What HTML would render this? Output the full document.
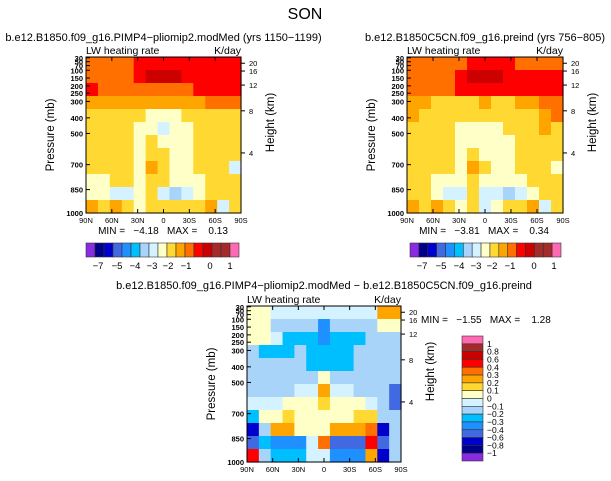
<!DOCTYPE html>
<html><head><meta charset="utf-8">
<style>
body{margin:0;background:#fff;}
svg{display:block;font-family:"Liberation Sans",sans-serif;}
text{white-space:pre;}
</style></head><body>
<svg id="c" width="611" height="481" xmlns="http://www.w3.org/2000/svg" xml:space="preserve">
<text x="305" y="19" font-size="16" text-anchor="middle">SON</text>
</svg>
<script>
// ---- data ----
const lats = ["90N","60N","30N","0","30S","60S","90S"];
const presTicks = ["30","50","70","100","150","200","250","300","400","500","700","850","1000"];
const presFrac = [0.005,0.03,0.055,0.085,0.135,0.185,0.232,0.285,0.39,0.49,0.69,0.85,1.0];
const hgtTicks = ["20","16","12","8","4"];
const hgtFrac = [0.04,0.09,0.18,0.345,0.615];
const absLevels = [-7,-6,-5,-4.5,-4,-3.5,-3,-2.5,-2,-1.5,-1,-0.5,0,0.5,1,1.5];
const absLabels = ["−7","−5","−4","−3","−2","−1","0","1"];
const absLabelOff = [12,31,49,66,82,100,124,144];
const diffLevels = [-1,-0.8,-0.6,-0.4,-0.3,-0.2,-0.1,0,0.1,0.2,0.3,0.4,0.6,0.8,1];
const diffLabels = ["1","0.8","0.6","0.4","0.3","0.2","0.1","0","−0.1","−0.2","−0.3","−0.4","−0.6","−0.8","−1"];
const absColors = ["#8a2be2","#00008b","#0000cd","#4169e1","#1e90ff","#00bfff","#a8d4fa","#d4f2ff","#ffffc8","#ffd832","#ffa500","#ff7000","#ff0000","#cd0000","#a52a2a","#a52a2a","#ff69b4"];
const diffColors = ["#8a2be2","#00008b","#0000cd","#4169e1","#1e90ff","#00bfff","#a8d4fa","#d4f2ff","#ffffc8","#ffd832","#ffa500","#ff7000","#ff0000","#cd0000","#a52a2a","#ff69b4"];
const gridPI = [
[-0.7,-0.7,-0.7,-0.7,-0.3,-0.3,-0.3,-0.3,-0.3,-0.3,-0.3,-0.3,-0.3],
[-0.7,-0.7,-0.7,-0.7,-0.3,0.1,0.1,0.1,-0.3,-0.3,-0.3,-0.3,-0.3],
[-0.3,-0.7,-0.7,-0.7,-0.7,-0.7,-0.7,-0.7,-0.7,-0.3,-0.3,-0.3,-0.3],
[-1.2,-1.2,-1.2,-1.2,-1.2,-1.2,-1.2,-1.2,-1.2,-1.2,-0.7,-0.7,-0.7],
[-1.7,-1.7,-1.7,-1.7,-1.7,-2.2,-2.2,-2.2,-1.7,-1.7,-1.7,-1.7,-1.7],
[-1.7,-1.7,-1.7,-1.7,-2.2,-2.2,-2.7,-2.2,-2.2,-1.7,-1.7,-1.7,-1.7],
[-1.7,-1.7,-1.7,-1.7,-2.2,-1.7,-2.2,-2.2,-2.2,-1.7,-1.7,-1.7,-1.7],
[-1.7,-1.7,-1.7,-1.7,-2.2,-1.7,-1.7,-2.2,-2.2,-1.7,-1.7,-1.7,-1.7],
[-1.7,-1.7,-1.7,-1.7,-2.2,-1.2,-1.7,-2.2,-2.2,-1.7,-1.7,-1.7,-2.7],
[-2.2,-2.2,-1.7,-1.7,-2.2,-1.7,-1.7,-2.2,-2.2,-2.2,-1.7,-1.7,-1.7],
[-2.2,-2.2,-2.7,-2.7,-2.2,-1.7,-2.7,-3.2,-2.7,-2.2,-1.7,-1.7,-1.7],
[-1.2,-1.7,-1.2,-1.7,-2.2,-1.7,-1.7,-1.7,-1.7,-1.7,-1.2,-2.7,-1.7]];
const gridPre = [
[-0.7,-0.7,-0.7,-0.7,-0.7,-0.3,-0.3,-0.3,-0.3,-0.7,-0.7,-0.7,-0.7],
[-0.7,-0.7,-0.7,-0.7,-0.3,0.1,0.1,0.1,-0.3,-0.3,-0.3,-0.3,-0.3],
[-0.7,-0.7,-0.7,-0.7,-0.3,-0.3,-0.3,-0.3,-0.3,-0.3,-0.3,-0.3,-0.3],
[-1.2,-1.2,-1.7,-1.7,-1.7,-1.7,-1.2,-1.7,-1.7,-1.2,-1.2,-0.7,-0.7],
[-1.2,-1.7,-1.7,-1.7,-1.7,-1.7,-1.7,-1.7,-1.7,-1.7,-1.7,-1.2,-0.7],
[-1.7,-1.7,-1.7,-1.7,-2.2,-2.2,-2.2,-2.2,-1.7,-1.7,-1.7,-1.2,-1.7],
[-1.7,-1.7,-1.7,-1.7,-2.2,-2.2,-2.2,-2.2,-2.2,-1.7,-1.7,-1.7,-1.7],
[-1.7,-1.7,-1.7,-1.7,-2.2,-1.7,-2.2,-2.2,-2.2,-1.7,-1.7,-1.7,-1.7],
[-1.7,-1.7,-1.7,-1.7,-2.2,-1.2,-1.7,-2.2,-2.2,-1.7,-1.7,-1.7,-2.2],
[-1.7,-1.7,-2.2,-2.2,-2.2,-1.7,-2.2,-2.2,-2.2,-2.2,-1.7,-1.7,-1.7],
[-1.7,-1.7,-2.2,-2.7,-2.7,-1.7,-2.7,-2.7,-3.2,-2.7,-2.2,-1.7,-1.7],
[-1.2,-1.7,-1.2,-1.7,-2.2,-1.7,-2.7,-2.2,-1.7,-1.7,-1.2,-2.7,-1.7]];
const gridDiff = [
[0.05,0.05,-0.05,-0.05,-0.05,-0.05,-0.05,-0.05,-0.05,-0.05,-0.05,0.25,0.25],
[0.05,0.05,-0.15,-0.15,-0.15,-0.15,-0.35,-0.15,-0.15,-0.15,-0.15,0.05,0.05],
[0.05,0.05,-0.05,-0.25,-0.25,-0.25,-0.35,-0.25,-0.25,-0.25,-0.15,-0.15,-0.15],
[-0.15,-0.25,-0.25,-0.25,-0.15,-0.25,-0.25,-0.25,-0.25,-0.15,-0.15,-0.15,-0.15],
[-0.15,-0.15,-0.15,-0.15,-0.15,-0.25,-0.25,-0.25,-0.25,-0.15,-0.15,-0.15,-0.15],
[-0.15,-0.15,-0.15,-0.15,-0.15,-0.15,0.05,-0.15,-0.15,-0.15,-0.15,-0.15,-0.15],
[-0.15,-0.15,-0.15,-0.15,-0.05,-0.05,0.25,-0.05,-0.05,-0.15,-0.15,-0.15,-0.5],
[-0.05,-0.05,-0.05,0.05,0.05,0.05,0.15,0.05,0.05,0.05,-0.05,-0.15,-0.5],
[-0.25,0.05,0.05,0.15,0.05,0.05,0.05,0.05,0.05,0.15,0.15,-0.15,-0.15],
[-0.7,-0.15,0.2,0.2,0.05,0.05,0.05,0.25,0.25,0.25,0.3,-0.7,-0.15],
[-0.5,-0.25,-0.35,-0.35,-0.35,-0.05,0.35,-0.45,-0.45,-0.45,0.5,-0.5,-0.2],
[0.5,-0.15,-0.3,-0.3,-0.3,-0.1,-0.1,-0.35,-0.35,-0.35,0.2,-0.7,-0.2]];

// ---- drawing ----
const svg = document.getElementById('c');
const NS = "http://www.w3.org/2000/svg";
function el(tag, attrs, parent){const e=document.createElementNS(NS,tag);for(const k in attrs)e.setAttribute(k,attrs[k]);(parent||svg).appendChild(e);return e;}
function txt(x,y,s,size,anchor,parent){const t=el('text',{x:x,y:y,'font-size':size,'text-anchor':anchor||'start'},parent);t.textContent=s;return t;}
function colorFor(v,levels,colors){let i=0;while(i<levels.length&&v>=levels[i])i++;return colors[i];}

function panel(name,L,T,W,H,grid,levels,colors,title,minmax){
  const g=el('g',{});
  
  
  const rows=grid.length, cols=grid[0].length;
  const cw=W/cols, ch=H/rows;
  for(let r=0;r<rows;r++)for(let c=0;c<cols;c++){
    const rc=el('rect',{x:L+c*cw,y:T+r*ch,width:cw+0.6,height:ch+0.6,fill:colorFor(grid[r][c],levels,colors)},g);
    
    
  }
  el('rect',{x:L,y:T,width:W,height:H,fill:'none',stroke:'#000','stroke-width':1},g);
  if(title){const t=txt(L+W/2,T-16,title,11,'middle',g);}
  const lt=txt(L,T-3,"LW heating rate",10.5,'start',g);
  
  const ut=txt(L+W,T-3,"K/day",10.5,'end',g);
  
  lats.forEach((s,i)=>{const x=L+i*W/(lats.length-1);
    el('line',{x1:x,y1:T+H,x2:x,y2:T+H-4,stroke:'#000'},g);
    el('line',{x1:x,y1:T,x2:x,y2:T+4,stroke:'#000'},g);
    const t=txt(x,T+H+10,s,7.5,'middle',g);});
  presTicks.forEach((s,i)=>{const y=T+presFrac[i]*H;
    el('line',{x1:L,y1:y,x2:L+4,y2:y,stroke:'#000'},g);
    const t=txt(L-3,y+3,s,7.5,'end',g);t.setAttribute('font-weight','bold');});
  hgtTicks.forEach((s,i)=>{const y=T+hgtFrac[i]*H;
    el('line',{x1:L+W,y1:y,x2:L+W+4,y2:y,stroke:'#000'},g);
    const t=txt(L+W+8,y+3,s,7.5,'start',g);});
  const yl=txt(0,0,"Pressure (mb)",11.5,'middle',g);
  yl.setAttribute('transform',`translate(${L-32},${T+H/2}) rotate(-90)`);
  
  const hl=txt(0,0,"Height (km)",11.5,'middle',g);
  hl.setAttribute('transform',`translate(${L+W+33},${T+H*0.42}) rotate(-90)`);
  
  if(minmax){const t=txt(minmax[0],minmax[1],minmax[2],10,'middle',g);}
}

function hbar(name,L,T,W,H){
  const g=el('g',{});
  
  
  const n=absColors.length,bw=W/n;
  absColors.forEach((c,i)=>{const r=el('rect',{x:L+i*bw,y:T,width:bw,height:H,fill:c,stroke:'#333','stroke-width':0.6},g);
    });
  absLabels.forEach((s,i)=>{const t=txt(L+absLabelOff[i],T+H+12,s,9.5,'middle',g);});
}
function vbar(name,L,T,W,H){
  const g=el('g',{});
  
  
  const n=diffColors.length,bh=H/n;
  diffColors.slice().reverse().forEach((c,i)=>{const r=el('rect',{x:L,y:T+i*bh,width:W,height:bh,fill:c,stroke:'#333','stroke-width':0.6},g);
    });
  diffLabels.forEach((s,i)=>{const t=txt(L+W+4,T+(i+1)*bh+3,s,8.5,'start',g);});
}

panel('panel-pliomip2',86,57,155,156,gridPI,absLevels,absColors,"b.e12.B1850.f09_g16.PIMP4−pliomip2.modMed (yrs 1150−1199)",[163,234,"MIN =   −4.18   MAX =    0.13"]);
panel('panel-preind',407,57,156,156,gridPre,absLevels,absColors,"b.e12.B1850C5CN.f09_g16.preind (yrs 756−805)",[484,234,"MIN =   −3.81   MAX =    0.34"]);
panel('panel-difference',247,306,154,156,gridDiff,diffLevels,diffColors,null,null);
hbar('colorbar-left',86,243,153,14);
hbar('colorbar-right',410,243,151,14);
vbar('colorbar-diff',462,336,21,125);
const dt=txt(324,289,"b.e12.B1850.f09_g16.PIMP4−pliomip2.modMed − b.e12.B1850C5CN.f09_g16.preind",11,'middle');


const mm=txt(421,323,"MIN =   −1.55   MAX =    1.28",10,'start');


</script>
</body></html>
